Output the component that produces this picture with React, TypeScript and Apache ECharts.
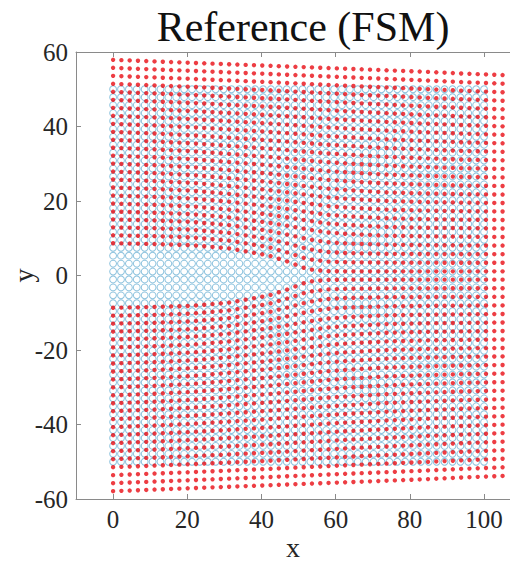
import React, { useEffect, useRef } from "react";
import * as echarts from "echarts";

// Reference (undeformed) lattice coordinates
const gridX = [
  0, 2.13, 4.26, 6.38, 8.51, 10.64, 12.77, 14.89, 17.02, 19.15, 21.28, 23.4,
  25.53, 27.66, 29.79, 31.91, 34.04, 36.17, 38.3, 40.43, 42.55, 44.68, 46.81,
  48.94, 51.06, 53.19, 55.32, 57.45, 59.57, 61.7, 63.83, 65.96, 68.09, 70.21,
  72.34, 74.47, 76.6, 78.72, 80.85, 82.98, 85.11, 87.23, 89.36, 91.49, 93.62,
  95.74, 97.87, 100,
];
const gridY = [
  -50, -47.87, -45.74, -43.62, -41.49, -39.36, -37.23, -35.11, -32.98, -30.85,
  -28.72, -26.6, -24.47, -22.34, -20.21, -18.09, -15.96, -13.83, -11.7, -9.57,
  -7.45, -5.32, -3.19, -1.06, 1.06, 3.19, 5.32, 7.45, 9.57, 11.7, 13.83, 15.96,
  18.09, 20.21, 22.34, 24.47, 26.6, 28.72, 30.85, 32.98, 35.11, 37.23, 39.36,
  41.49, 43.62, 45.74, 47.87, 50,
];

// Displacement readings (deformed minus reference), sampled along x
const sampleX = [0, 10, 20, 30, 40, 45, 50, 55, 60, 70, 80, 90, 100];
// rows of |y| at which vertical displacement was read (upper half; lower half mirrors)
const sampleAbsY = [1.06, 5.32, 10, 20, 30, 40, 50];
const uyRow1 = [7.6, 7.4, 7.1, 6.2, 4.3, 2.6, 0.6, 0.1, 0.05, 0.05, 0.05, 0.05, 0.05];
const uyRow5 = [7.6, 7.4, 7.0, 6.1, 4.5, 3.2, 1.8, 1.0, 0.7, 0.5, 0.45, 0.4, 0.4];
const uyRow10 = [7.6, 7.3, 6.9, 6.0, 4.6, 3.8, 2.9, 2.1, 1.7, 1.2, 1.0, 0.9, 0.8];
const uyRow20 = [7.7, 7.3, 6.8, 5.9, 4.9, 4.3, 3.7, 3.1, 2.7, 2.1, 1.8, 1.6, 1.5];
const uyRow30 = [7.7, 7.3, 6.8, 6.1, 5.4, 5.0, 4.6, 4.2, 3.9, 3.3, 2.9, 2.5, 2.3];
const uyRow40 = [7.8, 7.4, 7.0, 6.5, 6.0, 5.7, 5.4, 5.1, 4.8, 4.3, 3.8, 3.4, 3.0];
const uyRow50 = [7.9, 7.5, 7.1, 6.7, 6.3, 6.1, 5.9, 5.7, 5.5, 5.1, 4.7, 4.2, 3.8];
const uyRows = [uyRow1, uyRow5, uyRow10, uyRow20, uyRow30, uyRow40, uyRow50];
// horizontal displacement read along x
const uxAlongX = [0, 0.5, 1.0, 1.5, 2.0, 2.25, 2.5, 2.75, 3.0, 3.5, 4.0, 4.5, 5.0];

const xTicks = [0, 20, 40, 60, 80, 100];

function lookup(xs: number[], vs: number[], x: number): number {
  if (x <= xs[0]) return vs[0];
  for (let i = 1; i < xs.length; i++) {
    if (x <= xs[i]) {
      const t = (x - xs[i - 1]) / (xs[i] - xs[i - 1]);
      return vs[i - 1] + t * (vs[i] - vs[i - 1]);
    }
  }
  return vs[vs.length - 1];
}

function dispY(x: number, y: number): number {
  const s = y < 0 ? -1 : 1;
  const atRows = uyRows.map((r) => lookup(sampleX, r, x));
  return s * lookup(sampleAbsY, atRows, Math.abs(y));
}

export default function App() {
  const ref = useRef<HTMLDivElement>(null);
  useEffect(() => {
    if (!ref.current) return;
    const chart = echarts.init(ref.current, undefined, { renderer: "svg" });
    const blue: number[][] = [];
    const red: number[][] = [];
    for (const y of gridY) {
      for (const x of gridX) {
        blue.push([x, y]);
        red.push([x + lookup(sampleX, uxAlongX, x), y + dispY(x, y)]);
      }
    }
    const serif = "Liberation Serif";
    const axisColor = "#8a8a8a";
    const labelColor = "#262626";
    chart.setOption({
      animation: false,
      backgroundColor: "#ffffff",
      title: {
        text: "Reference (FSM)",
        left: 298,
        top: 1,
        textAlign: "center",
        textStyle: { fontFamily: serif, fontSize: 42, fontWeight: "normal", color: "#111" },
      },
      grid: {
        left: 76,
        top: 52,
        width: 434,
        height: 447,
        containLabel: false,
        outerBoundsMode: "none",
      },
      xAxis: [
        {
          type: "value",
          min: -10,
          max: 107,
          position: "bottom",
          axisLine: { show: true, onZero: false, lineStyle: { color: axisColor, width: 1 } },
          axisTick: { show: true, inside: true, length: 5, customValues: xTicks, lineStyle: { color: axisColor } },
          axisLabel: { customValues: xTicks, fontFamily: serif, fontSize: 25, color: labelColor, margin: 8 },
          splitLine: { show: false },
          name: "x",
          nameLocation: "middle",
          nameGap: 34,
          nameMoveOverlap: false,
          nameTextStyle: { fontFamily: serif, fontSize: 28, color: labelColor },
        },
        {
          type: "value",
          min: -10,
          max: 107,
          position: "top",
          axisLine: { show: true, onZero: false, lineStyle: { color: axisColor, width: 1 } },
          axisTick: { show: true, inside: true, length: 5, customValues: xTicks, lineStyle: { color: axisColor } },
          axisLabel: { show: false },
          splitLine: { show: false },
        },
      ],
      yAxis: [
        {
          type: "value",
          min: -60,
          max: 60,
          interval: 20,
          axisLine: { show: true, onZero: false, lineStyle: { color: axisColor, width: 1 } },
          axisTick: { show: true, inside: true, length: 5, lineStyle: { color: axisColor } },
          axisLabel: { fontFamily: serif, fontSize: 25, color: labelColor, margin: 8 },
          splitLine: { show: false },
          name: "y",
          nameLocation: "middle",
          nameGap: 39,
          nameMoveOverlap: false,
          nameTextStyle: { fontFamily: serif, fontSize: 28, color: labelColor },
        },
      ],
      series: [
        {
          name: "reference",
          type: "scatter",
          data: blue,
          symbol: "circle",
          symbolSize: 6.8,
          large: false,
          progressive: 0,
          itemStyle: { color: "rgba(0,0,0,0)", borderColor: "#72b4d6", borderWidth: 1 },
          silent: true,
        },
        {
          name: "deformed",
          type: "scatter",
          data: red,
          symbol: "circle",
          symbolSize: 4.4,
          large: false,
          progressive: 0,
          itemStyle: { color: "#e80c14" },
          silent: true,
        },
      ],
    });
    return () => chart.dispose();
  }, []);
  return (
    <div
      ref={ref}
      style={{ position: "fixed", left: 0, top: 0, width: 510, height: 562 }}
    />
  );
}
